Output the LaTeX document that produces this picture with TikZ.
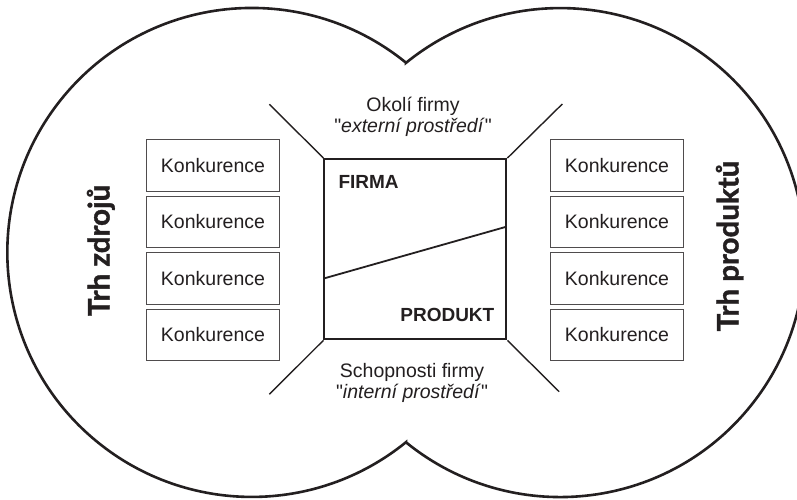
\documentclass[tikz,border=0pt]{standalone}
\usepackage{fontspec}
\setmainfont{Liberation Sans}[Ligatures=TeXOff]
\newfontfamily\labfont{Lato}[BoldFeatures={FakeBold=1.3}]
\definecolor{ink}{RGB}{35,31,32}
\begin{document}
\begin{tikzpicture}[x=1pt,y=-1pt,
  outline/.style={draw=ink, line width=2.6pt, line join=miter},
  konk/.style={draw=ink!80, line width=1.1pt, minimum width=132.6pt, minimum height=51.7pt,
    inner sep=0pt, font=\fontsize{19.5}{22}\selectfont, text=ink},
  firmbox/.style={draw=ink, line width=2pt, minimum width=182pt, minimum height=180.3pt, inner sep=0pt},
  thinline/.style={draw=ink, line width=1.4pt},
  normtext/.style={font=\fontsize{19.5}{22}\selectfont, text=ink, inner sep=0pt, anchor=base},
  boldtext/.style={font=\bfseries\fontsize{19}{22}\selectfont, text=ink, inner sep=0pt},
  sidelabel/.style={font=\labfont\bfseries\fontsize{29.5}{32}\selectfont, text=ink, inner sep=0pt, rotate=90, anchor=base}
]
\useasboundingbox (0,0) rectangle (797,499);
\fill[white] (0,0) rectangle (797,499);

% outer outline: union of two circles
\coordinate (cuspT) at (406,62.7);
\coordinate (cuspB) at (406,442.3);
\draw[outline] (cuspT) arc[start angle=50.9, end angle=309.1, radius=244.5pt]
  -- (cuspB) arc[start angle=230.9, end angle=489.1, radius=244.5pt] -- cycle;

% left competition boxes
\node[konk] (l1) at (213,165.5) {Konkurence};
\node[konk] (l2) at (213,222) {Konkurence};
\node[konk] (l3) at (213,278.5) {Konkurence};
\node[konk] (l4) at (213,335) {Konkurence};
% right competition boxes
\node[konk] (r1) at (617,165.5) {Konkurence};
\node[konk] (r2) at (617,222) {Konkurence};
\node[konk] (r3) at (617,278.5) {Konkurence};
\node[konk] (r4) at (617,335) {Konkurence};

% central firm square
\node[firmbox] (sq) at (415.4,249.2) {};
\coordinate (dl) at (324.4,278.3);
\coordinate (dr) at (506.4,226.7);
\draw[thinline, line width=1.8pt] (dl) -- (dr);

\coordinate (tl) at (269.4,104.3);
\coordinate (tr) at (562.3,104);
\coordinate (bl) at (269.4,394.3);
\coordinate (br) at (559.2,391.7);
\draw[thinline] (tl) -- (sq.north west);
\draw[thinline] (tr) -- (sq.north east);
\draw[thinline] (bl) -- (sq.south west);
\draw[thinline] (br) -- (sq.south east);

\node[boldtext, anchor=base west] (firma) at (338.3,188) {FIRMA};
\node[boldtext, anchor=base east] (produkt) at (494.5,321.5) {PRODUKT};

\node[normtext] (ok1) at (413,111) {Okolí firmy};
\node[normtext] (ok2) at (413,132.8) {"\textit{externí prostředí}"};
\node[normtext] (sc1) at (412,377) {Schopnosti firmy};
\node[normtext] (sc2) at (412,398.8) {"\textit{interní prostředí}"};

\node[sidelabel] (trhz) at (109.5,250.5) {Trh zdrojů};
\node[sidelabel] (trhp) at (738.5,246) {Trh produktů};
\end{tikzpicture}
\end{document}
